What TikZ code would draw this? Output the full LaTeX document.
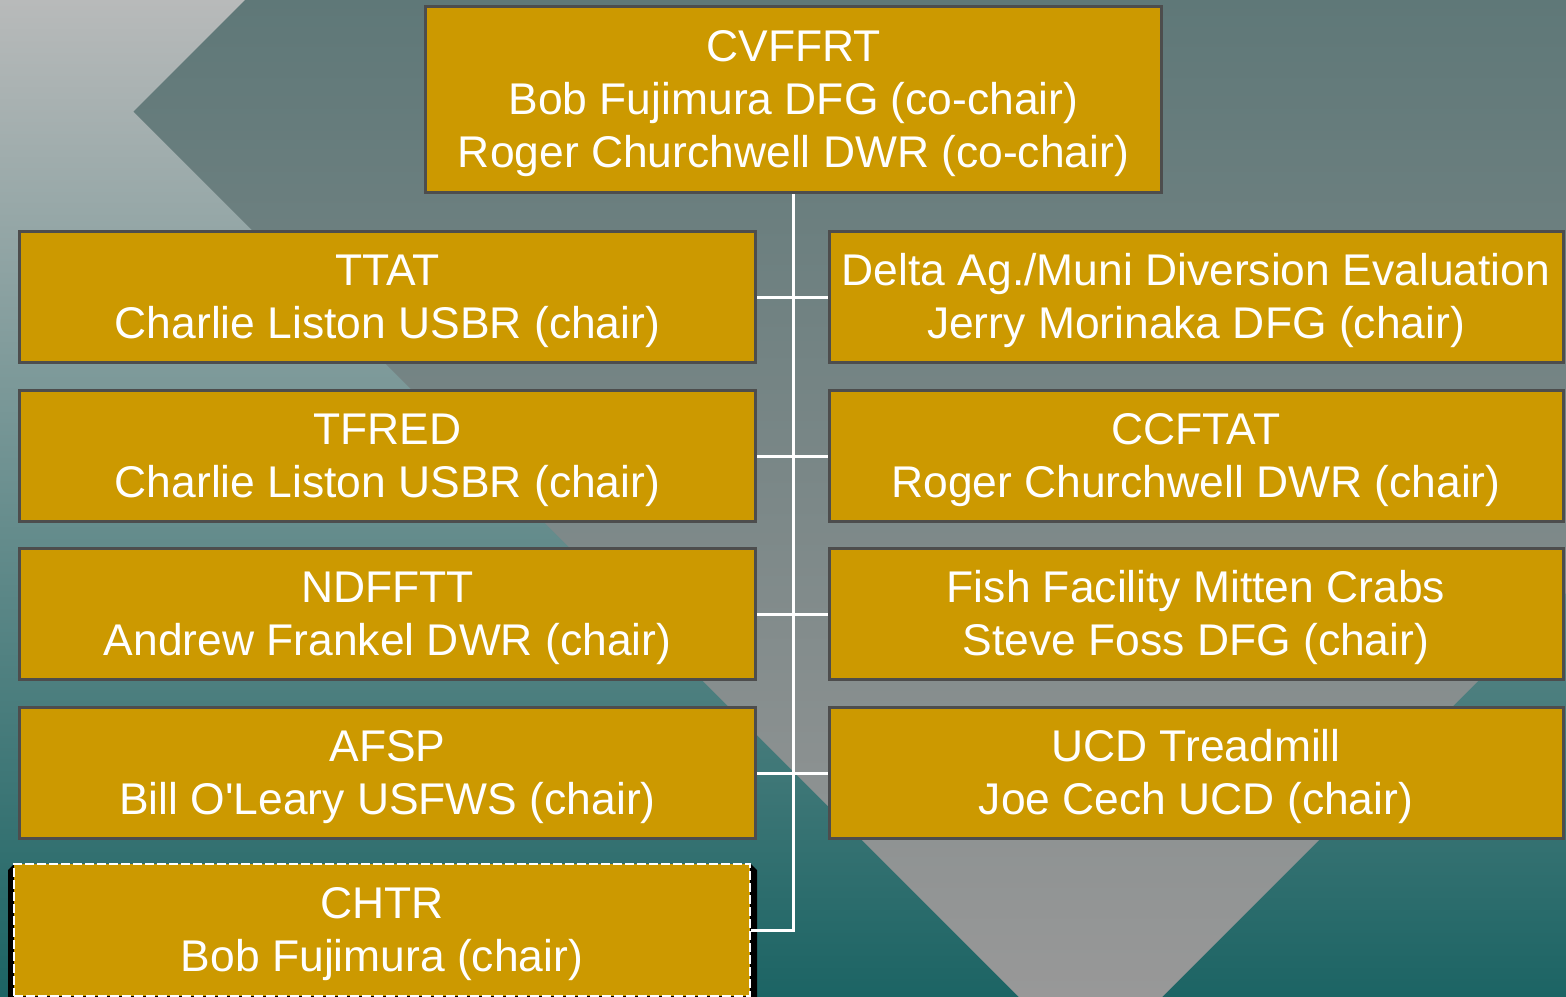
\documentclass[tikz,border=0pt]{standalone}
\usepackage{fontspec}
\setmainfont{Liberation Sans}[Ligatures=TeXOff]
\pgfdeclarelayer{bg}
\pgfdeclarelayer{links}
\pgfsetlayers{bg,links,main}
\definecolor{gold}{HTML}{CC9900}
\definecolor{edgegray}{HTML}{4D4D4D}
\definecolor{bgtop}{HTML}{B8BABA}
\definecolor{bgbot}{HTML}{1C6464}
\definecolor{chtop}{HTML}{5F7878}
\definecolor{chbot}{HTML}{989898}
\newcommand{\tstrut}{\rule{0pt}{40pt}}
\begin{document}
\begin{tikzpicture}[x=1pt,y=-1pt,
  box/.style={draw=edgegray, line width=3pt, fill=gold, text=white, align=center,
    font=\fontsize{44.4}{53}\selectfont, inner sep=0pt},
  leftbox/.style={box, minimum width=736pt, minimum height=131pt},
  rightbox/.style={box, minimum width=734pt, minimum height=131pt},
  conn/.style={draw=white, line width=3pt}]
\useasboundingbox (0,0) rectangle (1566,996);
\begin{pgfonlayer}{bg}
  \shade[top color=bgtop, bottom color=bgbot] (0,0) rectangle (1566,996);
  \begin{scope}
    \clip (245,0) -- (133.5,111.5) -- (1090.5,1068.5) -- (1566,593) -- (1566,0) -- cycle;
    \shade[top color=chtop, bottom color=chbot] (0,0) rectangle (1566,996);
  \end{scope}
  \fill[black] (8,870) -- (14,864) -- (751,864) -- (757,870) -- (757,1000) -- (8,1000) -- cycle;
\end{pgfonlayer}

\node[box, minimum width=736pt, minimum height=186pt] (cvffrt) at (793.5,99.5)
  {\tstrut CVFFRT\\Bob Fujimura DFG (co-chair)\\Roger Churchwell DWR (co-chair)};

\node[leftbox] (ttat) at (387.5,297) {\tstrut TTAT\\Charlie Liston USBR (chair)};
\node[leftbox] (tfred) at (387.5,456) {\tstrut TFRED\\Charlie Liston USBR (chair)};
\node[leftbox] (ndfftt) at (387.5,614) {\tstrut NDFFTT\\Andrew Frankel DWR (chair)};
\node[leftbox] (afsp) at (387.5,773) {\tstrut AFSP\\Bill O'Leary USFWS (chair)};

\node[rightbox] (delta) at (1196,297) {\tstrut Delta Ag./Muni Diversion Evaluation\\Jerry Morinaka DFG (chair)};
\node[rightbox] (ccftat) at (1196,456) {\tstrut CCFTAT\\Roger Churchwell DWR (chair)};
\node[rightbox] (fish) at (1196,614) {\tstrut Fish Facility Mitten Crabs\\Steve Foss DFG (chair)};
\node[rightbox] (ucd) at (1196,773) {\tstrut UCD Treadmill\\Joe Cech UCD (chair)};

\node[box, draw=white, line width=1.5pt, dash pattern=on 9pt off 3pt,
  minimum width=736pt, minimum height=132pt] (chtr) at (382,930)
  {\tstrut CHTR\\Bob Fujimura (chair)};

\begin{pgfonlayer}{links}
  \draw[conn] (cvffrt.south) -- (cvffrt.south |- chtr.east) -- (chtr.east);
  \draw[conn] (ttat.east) -- (delta.west);
  \draw[conn] (tfred.east) -- (ccftat.west);
  \draw[conn] (ndfftt.east) -- (fish.west);
  \draw[conn] (afsp.east) -- (ucd.west);
\end{pgfonlayer}
\end{tikzpicture}
\end{document}
